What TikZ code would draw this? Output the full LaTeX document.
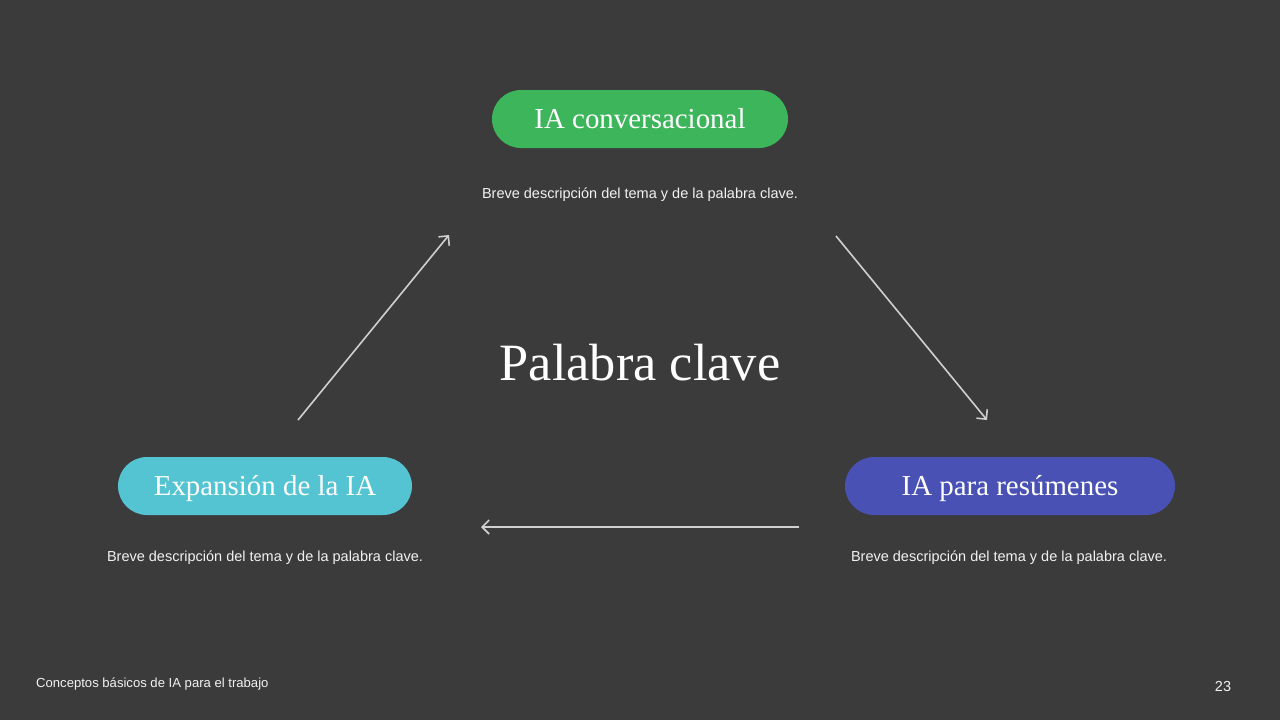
\documentclass[tikz,border=0pt]{standalone}
\usepackage{fontspec}
\setmainfont{Liberation Serif}
\setsansfont{Liberation Sans}
\usetikzlibrary{arrows.meta}
\definecolor{bg}{HTML}{3B3B3B}
\definecolor{pgreen}{HTML}{3DB55B}
\definecolor{pcyan}{HTML}{55C4D2}
\definecolor{pindigo}{HTML}{4951B4}
\definecolor{arrowgray}{HTML}{D0D0D0}
\definecolor{txt}{HTML}{F2F2F2}
\tikzset{
  pill/.style={rounded corners=29pt, minimum height=58pt, text=white,
    font=\fontsize{28.9}{32}\selectfont, inner sep=0pt, text height=19pt, text depth=0pt},
  desc/.style={text=txt, font=\sffamily\fontsize{14.5}{17}\selectfont, inner sep=0pt},
  flow/.style={draw=arrowgray, line width=1.6pt, -{Straight Barb[length=7pt,width=14pt]}},
}
\begin{document}
\begin{tikzpicture}[x=1pt,y=-1pt]
\fill[bg] (0,0) rectangle (1280,720);
\useasboundingbox (0,0) rectangle (1280,720);

\node[pill, fill=pgreen, minimum width=296pt] (top) at (640,119) {IA conversacional};
\node[pill, fill=pcyan, minimum width=294pt] (left) at (265,486) {Expansión de la IA};
\node[pill, fill=pindigo, minimum width=330pt] (right) at (1010,486) {IA para resúmenes};

\node[desc] (dtop) at (640,195) {Breve descripción del tema y de la palabra clave.};
\node[desc] (dleft) at (265,558) {Breve descripción del tema y de la palabra clave.};
\node[desc] (dright) at (1009,558) {Breve descripción del tema y de la palabra clave.};

\node[text=white, font=\fontsize{52.4}{58}\selectfont, inner sep=0pt] (center) at (640,363) {Palabra clave};

\coordinate (a1s) at (298,420);
\coordinate (a1e) at (449,235);
\coordinate (a2s) at (836,236);
\coordinate (a2e) at (987,420);
\coordinate (a3s) at (799,527);
\coordinate (a3e) at (481,527);
\draw[flow] (a1s) -- (a1e);
\draw[flow] (a2s) -- (a2e);
\draw[flow] (a3s) -- (a3e);

\node[desc, anchor=west, font=\sffamily\fontsize{13.1}{15}\selectfont] (foot) at (36,684) {Conceptos básicos de IA para el trabajo};
\node[desc, font=\sffamily\fontsize{14.5}{16}\selectfont] (page) at (1223,687) {23};
\end{tikzpicture}
\end{document}
